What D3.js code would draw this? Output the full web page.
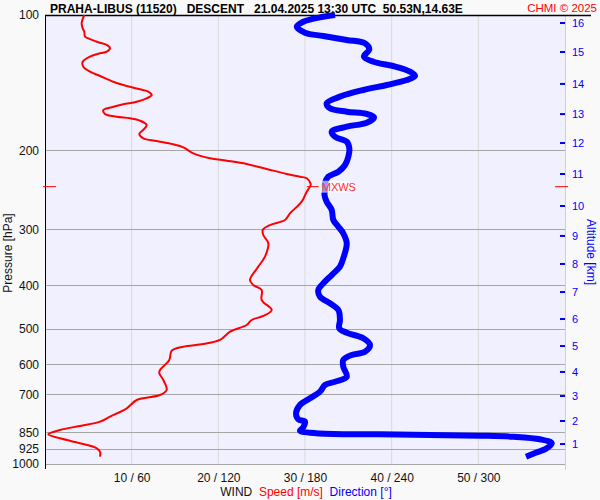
<!DOCTYPE html>
<html>
<head>
<meta charset="utf-8">
<script src="https://cdn.jsdelivr.net/npm/d3@7"></script>
<style>
  html, body { margin: 0; padding: 0; background: #f9f9f9; }
  svg { display: block; font-family: "Liberation Sans", Arial, sans-serif; }
</style>
</head>
<body>
<svg id="chart" width="600" height="500"></svg>
<script>
// ---------- DATA ----------
const pressureTicks = [100, 200, 300, 400, 500, 600, 700, 850, 925, 1000];
const speedTicks = [10, 20, 30, 40, 50];
const speedTickLabels = ["10 / 60", "20 / 120", "30 / 180", "40 / 240", "50 / 300"];
const altitudeKm = [1, 2, 3, 4, 5, 6, 7, 8, 9, 10, 11, 12, 13, 14, 15, 16];
const altitudeP = [902.7, 802.2, 705.7, 623.7, 546.1, 475.4, 414.0, 358.5, 310.5, 266.3, 226.0, 192.8, 166.2, 142.4, 120.9, 104.2];

// wind speed profile (m/s) vs pressure (hPa)
const speedP = [100, 104.3, 107.1, 108.9, 111.8, 112.7, 115.0, 116.6, 118.6, 120.7, 121.7, 123.8, 127.1, 130.4, 133.7, 136.7,
  140.8, 143.9, 146.4, 148.2, 150.9, 153.3, 156.0, 158.1, 160.5, 162.8, 166.1, 168.5, 169.8, 171.9, 175.8, 180.3, 184.1,
  188.2, 190.8, 194.1, 197.1, 203.3, 208.5, 211.1, 214.7, 220.3, 226.0, 229.2, 231.0, 237.9, 241.2, 247.5, 260.5, 276.5,
  286.1, 293.6, 301.2, 309.0, 322.4, 345.4, 363.5, 389.2, 399.3, 409.7, 431.3, 454.0, 468.1, 477.8, 490.3, 507.3, 529.4,
  540.4, 547.9, 559.3, 586.6, 617.4, 628.0, 649.9, 684.2, 701.9, 720.2, 751.5, 784.5, 804.9, 822.8, 839.9, 858.6, 876.4,
  899.2, 922.6, 938.7, 963.2];
const speed = [4.53, 4.23, 4.35, 4.53, 4.62, 5.0, 6.15, 7.12, 7.5, 7.12, 6.35, 5.19, 4.35, 4.42, 5.19, 6.35,
  7.88, 9.43, 10.96, 11.92, 12.31, 11.73, 10.58, 9.03, 7.70, 6.73, 6.92, 8.27, 9.81, 10.96, 11.73, 11.34, 10.88,
  11.34, 12.89, 14.80, 15.96, 17.11, 19.04, 20.97, 23.27, 25.58, 27.89, 29.42, 30.20, 30.66, 30.58, 30.20, 29.62, 28.27,
  27.69, 25.96, 25.12, 25.19, 25.77, 25.38, 24.61, 23.65, 24.03, 25.0, 25.0, 26.16, 25.19, 23.85, 23.27, 21.35, 20.19,
  18.27, 15.96, 14.62, 14.34, 13.27, 13.19, 13.65, 14.04, 13.27, 10.58, 9.43, 7.5, 6.35, 4.04, 1.73, 0.38, 1.73,
  4.04, 5.97, 6.35, 6.35];

// wind direction profile (deg) vs pressure (hPa)
const dirP = [100, 101.2, 103.5, 106.2, 109.5, 111.4, 113.7, 115.6, 119.2, 123.8, 127.1, 129.9, 133.7, 136.7, 139.6,
  143.2, 146.9, 152.0, 157.3, 161.4, 164.2, 166.1, 169.0, 173.7, 177.3, 181.9, 186.7, 191.5, 198.1, 206.8, 215.8,
  223.4, 229.2, 237.0, 245.3, 251.7, 260.5, 271.8, 286.1, 296.1, 306.3, 322.4, 348.2, 363.5, 379.4, 395.9, 409.7,
  424.1, 438.6, 454.0, 477.8, 498.6, 510.1, 524.8, 543.2, 562.2, 571.8, 586.6, 607.1, 639.1, 655.7, 666.9, 690.1,
  713.9, 738.9, 771.1, 795.1, 804.9, 828.3, 842.9, 851.6, 857.3, 858.6, 861.7, 864.8, 869.3, 880.9, 899.2, 922.6,
  948.6, 963.2];
const direction = [200.8, 190.4, 178.8, 174.3, 180.0, 192.7, 208.9, 221.5, 224.5, 220.8, 227.3, 241.1, 252.7, 256.2, 250.4,
  236.6, 220.4, 204.2, 195.0, 197.3, 208.9, 222.7, 227.8, 222.7, 208.9, 198.5, 200.8, 208.9, 210.7, 210.0, 207.7,
  203.1, 196.1, 193.8, 193.8, 193.5, 195.0, 198.5, 199.6, 203.1, 206.5, 208.9, 206.5, 204.2, 198.5, 192.7, 189.2,
  190.4, 197.3, 203.1, 204.2, 203.7, 208.9, 220.4, 225.0, 221.5, 212.3, 206.5, 206.5, 208.9, 200.8, 193.8, 190.4,
  183.5, 176.5, 173.8, 175.4, 180.0, 178.8, 176.5, 183.5, 199.6, 231.9, 266.5, 301.2, 324.2, 342.7, 350.8, 347.3,
  338.1, 333.0];

const maxWindP = 241.2;
const maxWindSpeed = 30.66;

// ---------- LAYOUT ----------
const L = 45, R = 565, T = 15, B = 464;
const svg = d3.select("#chart");

const x = d3.scaleLinear().domain([0, 60]).range([L, R]);
const xd = d3.scaleLinear().domain([0, 360]).range([L, R]);
const y = d3.scaleLog().domain([100, 1000]).range([T, B]);

// background
svg.append("rect").attr("width", 600).attr("height", 500).attr("fill", "#f9f9f9");
svg.append("rect").attr("x", L).attr("y", T).attr("width", R - L).attr("height", B - T).attr("fill", "#f0f0ff");

// vertical grid
svg.append("g").selectAll("line").data(speedTicks).join("line")
  .attr("x1", d => x(d)).attr("x2", d => x(d))
  .attr("y1", T).attr("y2", B)
  .attr("stroke", "#d9d9d9").attr("stroke-width", 1);

// horizontal grid
svg.append("g").selectAll("line").data(pressureTicks.filter(p => p > 100)).join("line")
  .attr("x1", L).attr("x2", R)
  .attr("y1", d => Math.round(y(d)) + 0.5).attr("y2", d => Math.round(y(d)) + 0.5)
  .attr("stroke", "#a6a6a6").attr("stroke-width", 1);

// right border
svg.append("line").attr("x1", R + 0.5).attr("x2", R + 0.5).attr("y1", T).attr("y2", 470)
  .attr("stroke", "#d0d0d0");

// left pressure axis
const yAxis = d3.axisLeft(y).tickValues(pressureTicks).tickFormat(d3.format("d")).tickSize(0).tickPadding(6);
const gy = svg.append("g").attr("transform", `translate(${L},0)`).call(yAxis);
gy.select(".domain").remove();
gy.selectAll("text").attr("font-size", 12).attr("fill", "#111").attr("font-family", "Liberation Sans, Arial, sans-serif");
svg.append("line").attr("x1", L + 0.5).attr("x2", L + 0.5).attr("y1", T).attr("y2", 469)
  .attr("stroke", "#000").attr("stroke-width", 1);
// top line
svg.append("line").attr("x1", L).attr("x2", 591).attr("y1", T + 0.5).attr("y2", T + 0.5)
  .attr("stroke", "#000").attr("stroke-width", 1.5);

// bottom axis labels
const xAxis = d3.axisBottom(x).tickValues(speedTicks).tickFormat((d, i) => speedTickLabels[i]).tickSize(0).tickPadding(9);
const gx = svg.append("g").attr("transform", `translate(0,${B})`).call(xAxis);
gx.select(".domain").remove();
gx.selectAll("text").attr("font-size", 12).attr("fill", "#111").attr("font-family", "Liberation Sans, Arial, sans-serif");

// right altitude axis
const ga = svg.append("g");
ga.selectAll("line").data(altitudeKm).join("line")
  .attr("x1", R - 5).attr("x2", R)
  .attr("y1", (d, i) => y(altitudeP[i])).attr("y2", (d, i) => y(altitudeP[i]))
  .attr("stroke", "#0000ff").attr("stroke-width", 2);
ga.selectAll("text").data(altitudeKm).join("text")
  .attr("x", R + 7).attr("y", (d, i) => y(altitudeP[i]))
  .attr("dy", "0.35em").attr("font-size", 11).attr("fill", "#0000ff")
  .text(d => d);

// axis titles
svg.append("text").attr("transform", "translate(12,253) rotate(-90)")
  .attr("text-anchor", "middle").attr("font-size", 12).attr("fill", "#111").text("Pressure [hPa]");
svg.append("text").attr("transform", "translate(587,252) rotate(90)")
  .attr("text-anchor", "middle").attr("font-size", 12).attr("fill", "#0000ff").text("Altitude [km]");

// bottom legend
const leg = svg.append("text").attr("x", 306).attr("y", 496).attr("text-anchor", "middle").attr("font-size", 12)
  .attr("xml:space", "preserve");
leg.append("tspan").attr("fill", "#111").text("WIND  ");
leg.append("tspan").attr("fill", "#ff0000").text("Speed [m/s]  ");
leg.append("tspan").attr("fill", "#0000ff").text("Direction [°]");

// lines
const speedLine = d3.line().x((d, i) => x(speed[i])).y(d => y(d)).curve(d3.curveCatmullRom.alpha(0.5));
const dirLine = d3.line().x((d, i) => xd(direction[i])).y(d => y(d)).curve(d3.curveCatmullRom.alpha(0.5));

svg.append("path").datum(dirP).attr("d", dirLine)
  .attr("fill", "none").attr("stroke", "#0000ff").attr("stroke-width", 6)
  .attr("stroke-linejoin", "round").attr("stroke-linecap", "butt");

svg.append("path").datum(speedP).attr("d", speedLine)
  .attr("fill", "none").attr("stroke", "#ff0000").attr("stroke-width", 2)
  .attr("stroke-linejoin", "round");

// MXWS markers
const my = y(maxWindP);
svg.append("line").attr("x1", L - 2).attr("x2", L + 11).attr("y1", my).attr("y2", my).attr("stroke", "#ff0000").attr("stroke-width", 1);
svg.append("line").attr("x1", R - 10).attr("x2", R + 3).attr("y1", my).attr("y2", my).attr("stroke", "#ff0000").attr("stroke-width", 1);
const mx = x(maxWindSpeed);
svg.append("line").attr("x1", mx - 4).attr("x2", mx + 8).attr("y1", my).attr("y2", my).attr("stroke", "#ff0000").attr("stroke-width", 1);
svg.append("rect").attr("x", mx + 10).attr("y", my - 6).attr("width", 31).attr("height", 12)
  .attr("fill", "#ffffff").attr("fill-opacity", 0.6);
svg.append("text").attr("x", mx + 11).attr("y", my).attr("dy", "0.35em").attr("font-size", 11)
  .attr("fill", "#ff3030").text("MXWS");

// title
svg.append("text").attr("x", 50).attr("y", 13).attr("font-size", 12).attr("font-weight", "bold")
  .attr("fill", "#000").attr("xml:space", "preserve")
  .text("PRAHA-LIBUS (11520)   DESCENT   21.04.2025 13:30 UTC  50.53N,14.63E");
svg.append("text").attr("x", 597).attr("y", 12).attr("text-anchor", "end").attr("font-size", 11.5)
  .attr("fill", "#ff0000").text("CHMI © 2025");
</script>
</body>
</html>
